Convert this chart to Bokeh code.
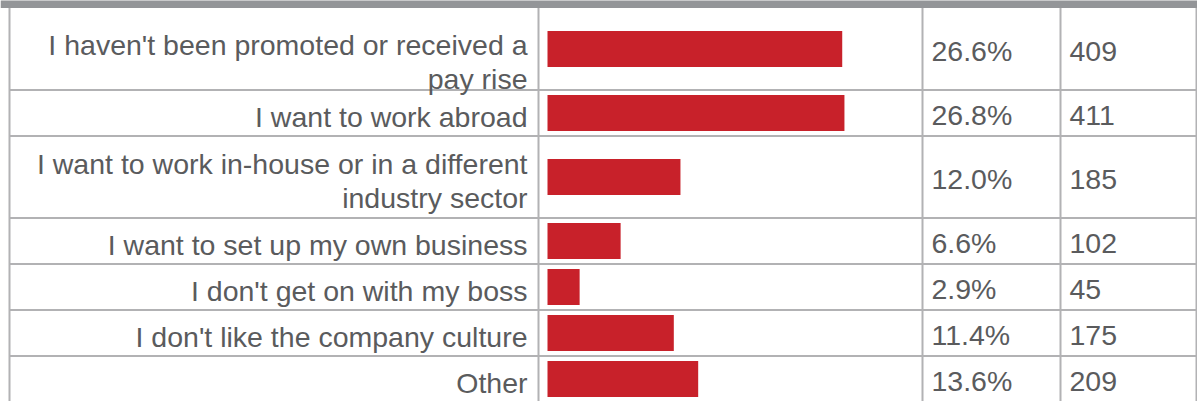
from bokeh.plotting import figure
from bokeh.models import Range1d
from bokeh.embed import file_html
from bokeh.resources import INLINE
from bokeh.core.properties import value

# ---- data ----
labels = [
    "I haven't been promoted or received a\npay rise",
    "I want to work abroad",
    "I want to work in-house or in a different\nindustry sector",
    "I want to set up my own business",
    "I don't get on with my boss",
    "I don't like the company culture",
    "Other",
]
percents = [26.6, 26.8, 12.0, 6.6, 2.9, 11.4, 13.6]
counts = [409, 411, 185, 102, 45, 175, 209]
pct_labels = ["26.6%", "26.8%", "12.0%", "6.6%", "2.9%", "11.4%", "13.6%"]

# ---- layout (pixel geometry of the table) ----
W, H = 1197, 401
HEADER_H = 7.5
ROW1, ROW2 = 46.0, 82.0          # row heights for one / two text lines
BAR_X0 = 547                      # pixel where the bar column's zero sits
PX_PER_PCT = 11.08
COLS = [9, 538, 922, 1060, 1196]  # vertical rule positions (px)
FIRST_ROW_TEXT_SHIFT = 9          # first row's label sits low in its cell

def px(xp):
    return (xp - BAR_X0) / PX_PER_PCT

bounds = [HEADER_H]
for lab in labels:
    bounds.append(bounds[-1] + (ROW2 if "\n" in lab else ROW1))
centers = [(a + b) / 2 for a, b in zip(bounds[:-1], bounds[1:])]
label_y = [c + 4 + (FIRST_ROW_TEXT_SHIFT if i == 0 else 0)
           for i, c in enumerate(centers)]
value_y = [c + 2 for c in centers]

p = figure(width=W, height=H, output_backend="svg", toolbar_location=None,
           x_range=Range1d(px(0), px(W)), y_range=Range1d(H, 0),
           x_axis_location=None, y_axis_location=None,
           min_border=0, outline_line_color=None)
p.grid.visible = False
p.background_fill_color = "white"
p.border_fill_color = "white"

# header band
p.quad(left=px(0), right=px(W), top=-2, bottom=HEADER_H,
       fill_color="#939598", line_color=None)

# bars
p.hbar(y=centers, left=0, right=percents, height=36,
       fill_color="#c8212a", line_color=None)

# grid rules
grey = "#b2b2b4"
p.segment(x0=[px(COLS[0])] * (len(bounds) - 1), x1=[px(W)] * (len(bounds) - 1),
          y0=bounds[1:], y1=bounds[1:], line_color=grey, line_width=2)
p.segment(x0=[px(c) for c in COLS], x1=[px(c) for c in COLS],
          y0=[HEADER_H] * len(COLS), y1=[H + 5] * len(COLS),
          line_color=grey, line_width=2)

font = value("Liberation Sans")
txt_color = "#5a5b5d"
fs = "28.5px"

p.text(x=[px(527)] * len(labels), y=label_y, text=labels,
       text_align="right", text_baseline="middle", text_font=font,
       text_font_size=fs, text_color=txt_color, text_line_height=1.05)
p.text(x=[px(931)] * len(labels), y=value_y, text=pct_labels,
       text_align="left", text_baseline="middle", text_font=font,
       text_font_size=fs, text_color=txt_color)
p.text(x=[px(1069)] * len(labels), y=value_y, text=[str(c) for c in counts],
       text_align="left", text_baseline="middle", text_font=font,
       text_font_size=fs, text_color=txt_color)

open("out.html", "w").write(file_html(p, INLINE))
